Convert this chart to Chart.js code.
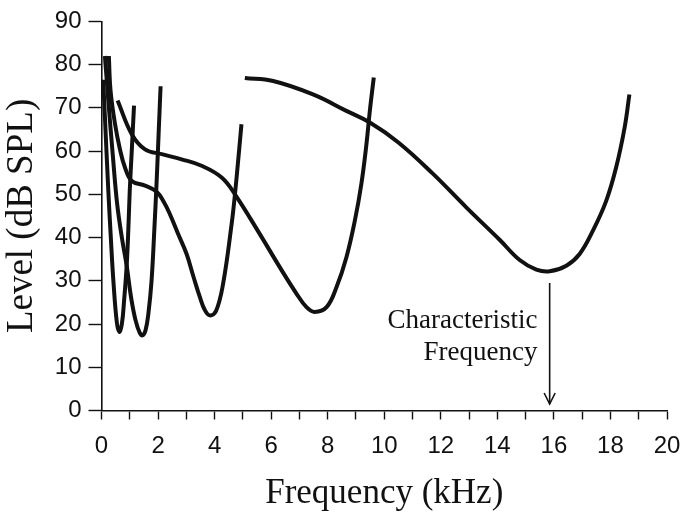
<!DOCTYPE html>
<html>
<head>
    <title>Tuning curves</title>
    <style>
        html, body { margin: 0; padding: 0; background: #fff; }
        #wrap { position: relative; width: 682px; height: 523px; }
    </style>
    <script src="https://cdn.jsdelivr.net/npm/chart.js"></script>
</head>
<body>
    <div id="wrap"><canvas id="chart" width="682" height="523"></canvas></div>

    <script>
        // tuning curves: frequency (kHz) and level (dB SPL)
        var curve1X = [0.06, 0.12, 0.24, 0.33, 0.42, 0.54, 0.63, 0.72, 0.80, 0.89, 0.95, 1.00, 1.07, 1.15];
        var curve1Y = [76.5, 68, 51, 40, 30, 20.5, 18.2, 20, 25.5, 33.5, 42, 51, 60, 70.5];

        var curve2X = [0.12, 0.25, 0.40, 0.55, 0.72, 0.89, 1.05, 1.20, 1.35, 1.46, 1.56, 1.66, 1.77, 1.87, 1.95, 2.02, 2.09];
        var curve2Y = [82, 71, 59, 48, 40, 33.5, 26, 21, 18, 17.4, 18.6, 22.5, 30, 42, 53, 64, 75];

        var curve3X = [0.26, 0.32, 0.48, 0.65, 0.83, 1.07, 1.54, 1.95, 2.20, 2.42, 2.70, 3.01, 3.25, 3.48, 3.65, 3.83, 4.05, 4.30, 4.60, 4.72, 4.85, 4.95];
        var curve3Y = [82, 74, 66.2, 60.5, 56.2, 53.1, 52, 50.6, 48.3, 45.4, 41, 36.2, 31, 26.2, 23.3, 22, 23, 29.3, 43, 50, 59, 66.2];

        var curve4X = [0.57, 1.07, 1.54, 2.13, 2.83, 3.54, 4.25, 4.72, 5.60, 6.31, 6.90, 7.25, 7.54, 7.96, 8.31, 8.66, 8.96, 9.19, 9.37, 9.49, 9.63];
        var curve4Y = [71.7, 63.9, 60.4, 59.3, 58.1, 56.6, 53.9, 50, 40.8, 33.1, 27, 23.9, 22.8, 23.9, 28.5, 35.4, 43.9, 52.4, 61.6, 69.3, 77];

        var curve5X = [5.07, 6.07, 7.48, 8.66, 9.49, 10.50, 11.70, 12.90, 14.08, 14.79, 15.38, 15.85, 16.44, 16.91, 17.38, 17.85, 18.20, 18.50, 18.67];
        var curve5Y = [76.9, 76.2, 73.1, 69.3, 66.6, 62, 54.9, 47, 39.5, 34.8, 32.6, 32.2, 33.5, 36.2, 41.6, 48.5, 56.2, 65.4, 73.1];

        // arrow marking the characteristic frequency
        var arrowX = [15.85, 15.85];
        var arrowY = [29.5, 1.5];

        // annotation text, right aligned at these values
        var noteLines = ['Characteristic', 'Frequency'];
        var noteX = 15.42;
        var noteY = [20.8, 13.3];

        var xTitle = 'Frequency (kHz)';
        var yTitle = 'Level (dB SPL)';

        function toPoints(xs, ys) {
            var pts = [];
            for (var i = 0; i < xs.length; i++) {
                pts.push({ x: xs[i], y: ys[i] });
            }
            return pts;
        }

        function curveSet(xs, ys) {
            return {
                data: toPoints(xs, ys),
                borderColor: '#111',
                borderWidth: 4,
                pointRadius: 0,
                fill: false,
                tension: 0.4,
                borderCapStyle: 'butt',
                borderJoinStyle: 'round'
            };
        }

        var serif = "'Liberation Serif', 'Times New Roman', serif";
        var sans = "'Liberation Sans', Arial, sans-serif";

        // arrowhead, note text and white page
        var extras = {
            id: 'extras',
            beforeDraw: function(chart) {
                var ctx = chart.ctx;
                ctx.save();
                ctx.fillStyle = '#fff';
                ctx.fillRect(0, 0, chart.width, chart.height);
                ctx.restore();
            },
            afterDatasetsDraw: function(chart) {
                var ctx = chart.ctx;
                var xs = chart.scales.x;
                var ys = chart.scales.y;
                var tipX = xs.getPixelForValue(arrowX[1]);
                var tipY = ys.getPixelForValue(arrowY[1]);
                ctx.save();
                ctx.strokeStyle = '#111';
                ctx.lineWidth = 1.6;
                ctx.beginPath();
                ctx.moveTo(tipX - 5.5, tipY - 11);
                ctx.lineTo(tipX, tipY);
                ctx.lineTo(tipX + 5.5, tipY - 11);
                ctx.stroke();

                ctx.fillStyle = '#111';
                ctx.font = '27px ' + serif;
                ctx.textAlign = 'right';
                ctx.textBaseline = 'middle';
                for (var i = 0; i < noteLines.length; i++) {
                    ctx.fillText(noteLines[i], xs.getPixelForValue(noteX), ys.getPixelForValue(noteY[i]));
                }
                ctx.restore();
            }
        };

        var sets = [
            curveSet(curve1X, curve1Y),
            curveSet(curve2X, curve2Y),
            curveSet(curve3X, curve3Y),
            curveSet(curve4X, curve4Y),
            curveSet(curve5X, curve5Y),
            {
                data: toPoints(arrowX, arrowY),
                borderColor: '#111',
                borderWidth: 1.6,
                pointRadius: 0,
                fill: false,
                tension: 0
            }
        ];

        var chart = new Chart(document.getElementById('chart').getContext('2d'), {
            type: 'line',
            data: { datasets: sets },
            plugins: [extras],
            options: {
                responsive: false,
                animation: false,
                events: [],
                layout: { padding: { top: 20, right: 15, left: 0, bottom: 0 } },
                plugins: {
                    legend: { display: false },
                    tooltip: { enabled: false }
                },
                scales: {
                    x: {
                        type: 'linear',
                        min: 0,
                        max: 20,
                        afterFit: function(scale) {
                            scale.height = 112.5;
                            scale.paddingRight = 0;
                        },
                        border: { color: '#111', width: 1.6 },
                        grid: {
                            drawOnChartArea: false,
                            drawTicks: true,
                            tickLength: 9,
                            tickColor: '#111',
                            tickWidth: 1.4
                        },
                        ticks: {
                            stepSize: 1,
                            autoSkip: false,
                            maxRotation: 0,
                            padding: 12,
                            color: '#111',
                            font: { family: sans, size: 24 },
                            callback: function(v) { return v % 2 === 0 ? v : ''; }
                        },
                        title: {
                            display: true,
                            text: xTitle,
                            color: '#111',
                            font: { family: serif, size: 35 },
                            padding: { top: 0, bottom: 8 }
                        }
                    },
                    y: {
                        min: 0,
                        max: 90,
                        afterFit: function(scale) { scale.width = 101.5; },
                        border: { color: '#111', width: 1.6 },
                        grid: {
                            drawOnChartArea: false,
                            drawTicks: true,
                            tickLength: 13,
                            tickColor: '#111',
                            tickWidth: 1.4
                        },
                        ticks: {
                            stepSize: 10,
                            padding: 7,
                            color: '#111',
                            font: { family: sans, size: 24 }
                        },
                        title: {
                            display: true,
                            text: yTitle,
                            color: '#111',
                            font: { family: serif, size: 37 },
                            padding: { top: 0, bottom: 0 }
                        }
                    }
                }
            }
        });
    </script>
</body>
</html>
